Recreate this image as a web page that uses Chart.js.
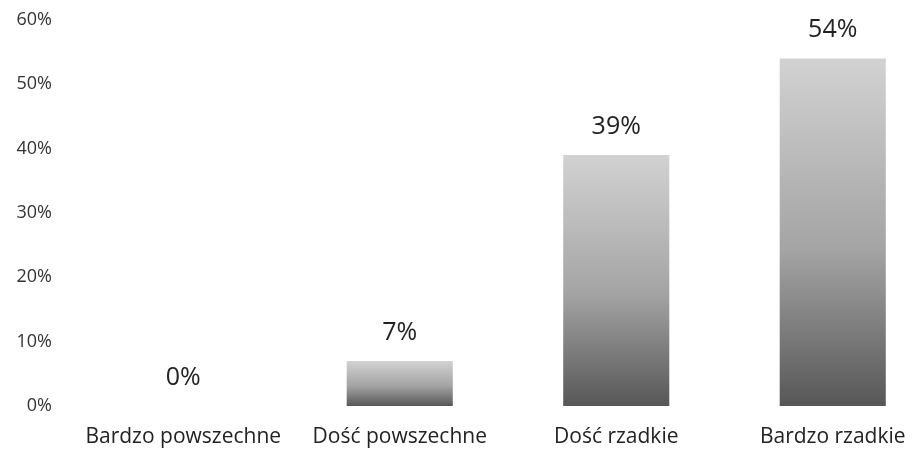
<!DOCTYPE html>
<html>
<head>
<meta charset="utf-8">
<script src="https://cdn.jsdelivr.net/npm/chart.js@4"></script>
<style>
  html,body{margin:0;padding:0;background:#fff;overflow:hidden;}
  /* plot runs past the right edge in the original, so the canvas is a bit wider than the page;
     nudged up so the 60% row sits near the top like the scan */
  #wrap{width:941px;height:470px;position:relative;top:-6px;}
</style>
</head>
<body>
<div id="wrap"><canvas id="chart"></canvas></div>
<script>
/* ---------- Data ---------- */
const categories = ['Bardzo powszechne', 'Dość powszechne', 'Dość rzadkie', 'Bardzo rzadkie'];
const values = [0, 7, 39, 54];
const yTicks = [0, 10, 20, 30, 40, 50, 60];

const FONT = '"Open Sans", "Noto Sans", sans-serif';

// per-bar vertical gradient, light on top, dark at the base
const barFill = (ctx) => {
  const chart = ctx.chart;
  const y = chart.scales.y;
  if(!chart.chartArea || !y || ctx.type !== 'data') return '#999';
  const top = y.getPixelForValue(ctx.raw);
  const base = y.getPixelForValue(0);
  if(!isFinite(top) || !isFinite(base) || base - top < 1) return '#999';
  const g = chart.ctx.createLinearGradient(0, top, 0, base);
  g.addColorStop(0, '#d2d2d2');
  g.addColorStop(0.55, '#a4a4a4');
  g.addColorStop(1, '#575757');
  return g;
};

// value labels above the bars
const valueLabels = {
  id:'valueLabels',
  afterDatasetsDraw(chart){
    const c = chart.ctx;
    const meta = chart.getDatasetMeta(0);
    c.save();
    c.font = `25px ${FONT}`;
    c.fillStyle = '#222';
    c.textAlign = 'center';
    c.textBaseline = 'alphabetic';
    meta.data.forEach((bar, i) => {
      c.fillText(values[i] + '%', bar.x, bar.y - 21);
    });
    c.restore();
  }
};

new Chart(document.getElementById('chart'), {
  type:'bar',
  data:{ labels:categories, datasets:[{ data:values, backgroundColor:barFill, borderWidth:0 }] },
  options:{
    responsive:true, maintainAspectRatio:false, animation:false,
    layout:{ padding:{ top:10, right:0, bottom:13, left:0 } },
    plugins:{ legend:{ display:false }, tooltip:{ enabled:false } },
    datasets:{ bar:{ categoryPercentage:1, barPercentage:0.49 } },
    scales:{
      x:{
        grid:{ display:false }, border:{ display:false },
        afterFit: s => { s.height = 45; },
        ticks:{ color:'#222', font:{ family:FONT, size:21 }, padding:10, maxRotation:0, autoSkip:false }
      },
      y:{
        min:0, max:60,
        grid:{ display:false }, border:{ display:false },
        afterBuildTicks: s => { s.ticks = yTicks.map(v => ({ value:v })); },
        afterFit: s => { s.width = 75; },
        ticks:{ color:'#333', font:{ family:FONT, size:18 }, padding:15, callback: v => v + '%' }
      }
    }
  },
  plugins:[valueLabels]
});
</script>
</body>
</html>
